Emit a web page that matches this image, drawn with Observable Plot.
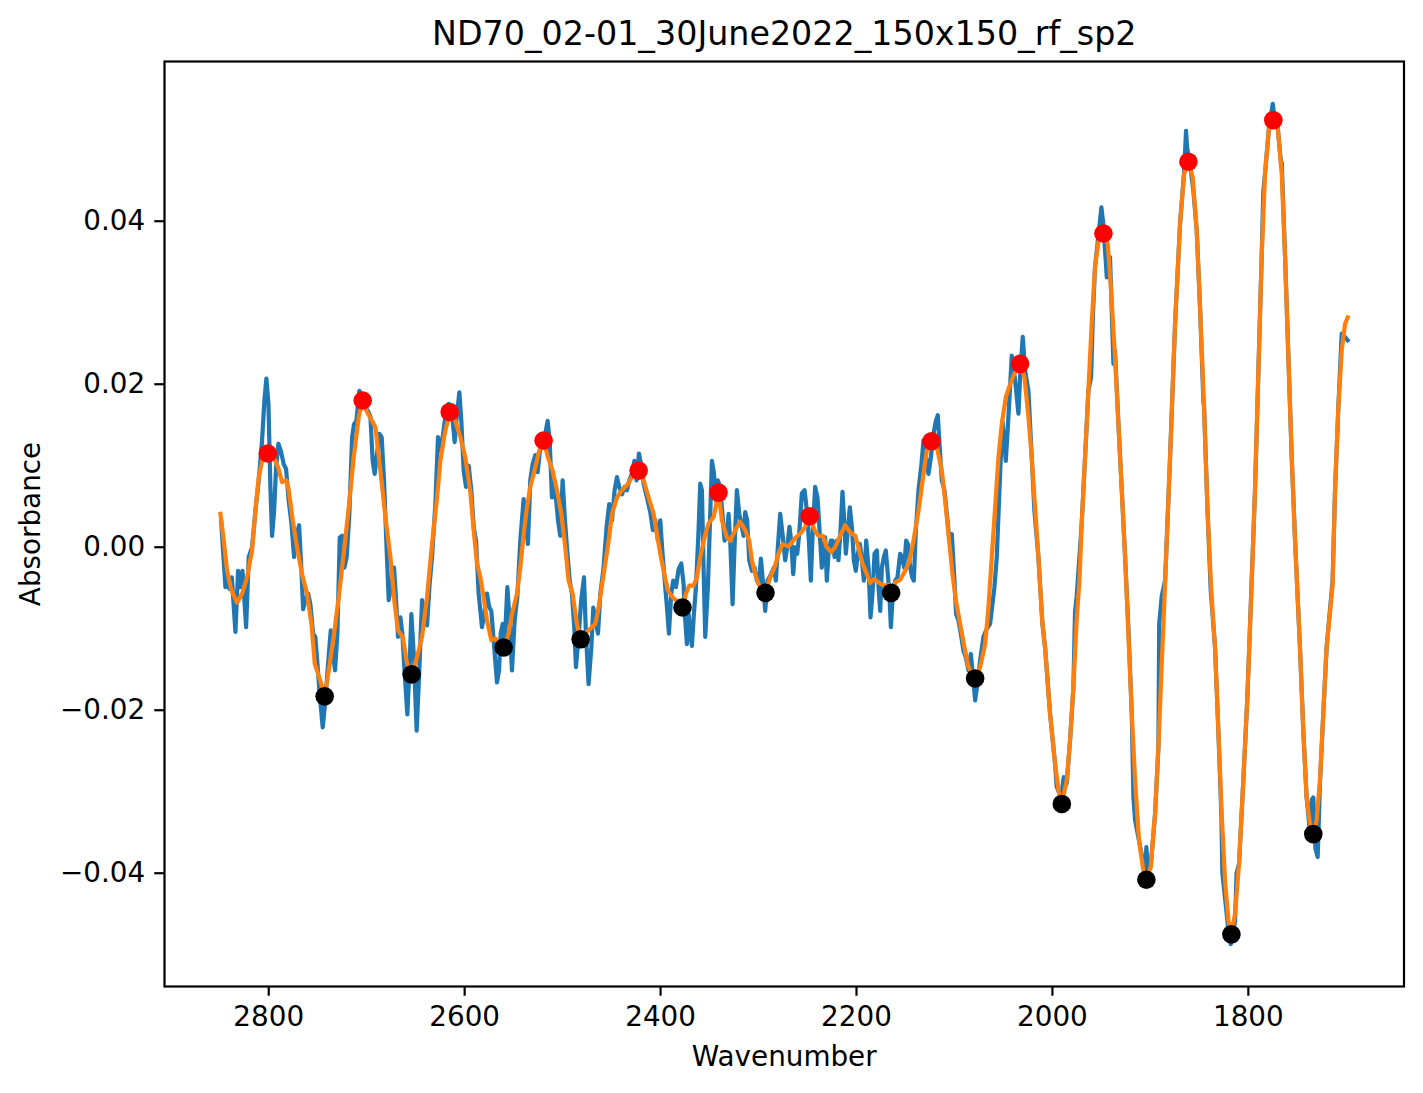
<!DOCTYPE html>
<html>
<head>
<meta charset="utf-8">
<script src="https://cdn.jsdelivr.net/npm/d3@7"></script>
<script src="https://cdn.jsdelivr.net/npm/@observablehq/plot@0.6"></script>
<style>
  html, body { margin: 0; padding: 0; background: #fff; overflow: hidden; }
</style>
</head>
<body>
<div id="chart"></div>
<script>
// Labels and ticks
const title = "ND70_02-01_30June2022_150x150_rf_sp2";
const xLabel = "Wavenumber";
const yLabel = "Absorbance";
const xTicks = [2800, 2600, 2400, 2200, 2000, 1800];
const yTicks = [-0.04, -0.02, 0, 0.02, 0.04];

// Raw spectrum: [wavenumber, absorbance]
const rawSpectrum = [
  [2848.5, 0.0031], [2844.2, -0.0049], [2842.2, -0.0037], [2840.1, -0.0051], [2837.7, -0.0037],
  [2834.0, -0.0104], [2831.3, -0.0029], [2829.2, -0.0049], [2826.8, -0.0029], [2823.1, -0.0098],
  [2820.4, -0.0012], [2817.0, 0.0000], [2813.6, 0.0045], [2810.2, 0.0082], [2806.8, 0.0131],
  [2804.4, 0.0180], [2802.4, 0.0207], [2800.3, 0.0176], [2798.3, 0.0074], [2796.6, 0.0014],
  [2794.5, 0.0045], [2792.5, 0.0098], [2790.1, 0.0127], [2787.4, 0.0117], [2784.7, 0.0102],
  [2782.3, 0.0096], [2779.6, 0.0057], [2776.8, 0.0029], [2774.1, -0.0012], [2771.4, 0.0016],
  [2769.0, 0.0027], [2766.6, -0.0029], [2764.9, -0.0076], [2762.6, -0.0065], [2759.8, -0.0057],
  [2757.5, -0.0070], [2754.7, -0.0106], [2752.4, -0.0110], [2750.3, -0.0143], [2748.3, -0.0176],
  [2744.9, -0.0221], [2742.2, -0.0188], [2739.4, -0.0143], [2736.7, -0.0102], [2734.3, -0.0131],
  [2732.3, -0.0151], [2729.9, -0.0106], [2727.5, 0.0012], [2725.1, 0.0014], [2722.8, -0.0025],
  [2720.4, -0.0012], [2717.7, 0.0041], [2714.9, 0.0135], [2712.9, 0.0151], [2710.5, 0.0155],
  [2707.5, 0.0192], [2704.7, 0.0186], [2702.0, 0.0172], [2699.0, 0.0168], [2696.2, 0.0160],
  [2693.9, 0.0106], [2691.8, 0.0090], [2689.4, 0.0115], [2687.0, 0.0139], [2684.7, 0.0135],
  [2682.3, 0.0082], [2679.6, -0.0004], [2677.5, -0.0065], [2674.8, -0.0045], [2672.1, -0.0025],
  [2670.0, -0.0065], [2668.0, -0.0110], [2665.6, -0.0086], [2663.6, -0.0106], [2661.2, -0.0155],
  [2658.5, -0.0205], [2656.4, -0.0151], [2654.4, -0.0082], [2652.0, -0.0131], [2649.0, -0.0225],
  [2646.6, -0.0160], [2643.5, -0.0065], [2640.8, -0.0078], [2638.4, -0.0096], [2636.0, -0.0049],
  [2633.3, -0.0012], [2629.9, 0.0053], [2627.2, 0.0135], [2624.8, 0.0119], [2622.4, 0.0135],
  [2619.7, 0.0160], [2616.3, 0.0176], [2612.9, 0.0164], [2610.2, 0.0129], [2607.8, 0.0164],
  [2605.4, 0.0190], [2603.4, 0.0155], [2601.0, 0.0094], [2598.6, 0.0074], [2595.9, 0.0100],
  [2593.2, 0.0070], [2590.8, 0.0025], [2588.4, 0.0008], [2585.7, -0.0057], [2582.3, -0.0098],
  [2579.6, -0.0078], [2577.2, -0.0057], [2574.8, -0.0074], [2572.8, -0.0078], [2570.4, -0.0114],
  [2567.0, -0.0166], [2564.9, -0.0151], [2563.2, -0.0106], [2561.2, -0.0094], [2559.2, -0.0119],
  [2556.4, -0.0049], [2554.1, -0.0090], [2551.7, -0.0151], [2549.0, -0.0090], [2546.2, -0.0061],
  [2543.2, 0.0008], [2539.8, 0.0059], [2537.4, 0.0029], [2535.4, 0.0004], [2533.0, 0.0082],
  [2530.6, 0.0102], [2527.9, 0.0113], [2525.5, 0.0092], [2523.1, 0.0119], [2520.4, 0.0123],
  [2517.7, 0.0139], [2515.3, 0.0155], [2513.2, 0.0131], [2510.9, 0.0061], [2509.2, 0.0082],
  [2507.1, 0.0065], [2504.7, 0.0033], [2502.4, 0.0014], [2500.0, 0.0082], [2497.6, 0.0033],
  [2495.6, 0.0000], [2492.8, -0.0041], [2490.5, -0.0057], [2488.1, -0.0098], [2486.4, -0.0147],
  [2483.7, -0.0110], [2481.0, -0.0065], [2478.2, -0.0037], [2476.2, -0.0106], [2473.5, -0.0168],
  [2470.7, -0.0123], [2468.7, -0.0074], [2466.3, -0.0090], [2463.9, -0.0106], [2461.5, -0.0057],
  [2458.2, -0.0025], [2455.1, 0.0025], [2452.4, 0.0053], [2449.6, 0.0033], [2446.9, 0.0070],
  [2444.5, 0.0086], [2442.2, 0.0074], [2439.4, 0.0065], [2436.7, 0.0074], [2434.3, 0.0070],
  [2431.9, 0.0082], [2429.2, 0.0090], [2426.8, 0.0106], [2424.5, 0.0082], [2422.1, 0.0115],
  [2419.7, 0.0100], [2417.3, 0.0078], [2413.9, 0.0061], [2410.5, 0.0043], [2407.8, 0.0021],
  [2405.4, 0.0033], [2402.7, 0.0008], [2400.3, 0.0033], [2398.0, -0.0008], [2395.2, -0.0049],
  [2393.2, -0.0078], [2391.5, -0.0106], [2389.1, -0.0057], [2387.1, -0.0041], [2384.3, -0.0049],
  [2381.6, -0.0027], [2378.9, -0.0020], [2376.5, -0.0045], [2374.8, -0.0090], [2373.1, -0.0119],
  [2371.4, -0.0082], [2369.7, -0.0102], [2368.0, -0.0121], [2366.0, -0.0082], [2363.9, -0.0049],
  [2361.5, 0.0013], [2359.5, 0.0078], [2357.8, 0.0070], [2356.1, -0.0025], [2354.4, -0.0110],
  [2351.7, -0.0049], [2349.3, 0.0041], [2347.6, 0.0106], [2345.6, 0.0092], [2343.5, 0.0057],
  [2341.5, 0.0082], [2339.4, 0.0074], [2337.1, 0.0045], [2334.7, 0.0008], [2332.3, 0.0016],
  [2330.6, 0.0041], [2328.9, 0.0008], [2326.5, -0.0070], [2324.5, 0.0000], [2322.1, 0.0070],
  [2319.7, 0.0041], [2317.7, 0.0029], [2315.3, 0.0014], [2313.6, 0.0043], [2311.6, 0.0033],
  [2309.5, -0.0016], [2306.8, -0.0029], [2304.1, -0.0025], [2301.7, -0.0041], [2299.6, -0.0045],
  [2297.6, -0.0014], [2295.6, -0.0041], [2293.2, -0.0078], [2290.8, -0.0041], [2288.8, -0.0037],
  [2286.4, -0.0031], [2284.3, -0.0025], [2282.3, -0.0041], [2280.3, 0.0000], [2277.9, 0.0041],
  [2275.5, 0.0016], [2272.8, -0.0016], [2270.7, 0.0000], [2268.4, 0.0025], [2266.7, 0.0008],
  [2264.6, -0.0033], [2262.6, 0.0000], [2260.5, -0.0008], [2258.5, 0.0016], [2255.8, 0.0066],
  [2253.0, 0.0070], [2250.7, 0.0045], [2248.6, 0.0008], [2246.6, -0.0041], [2244.5, 0.0025],
  [2242.2, 0.0074], [2239.8, 0.0061], [2237.7, 0.0021], [2235.4, -0.0025], [2233.7, -0.0004],
  [2232.0, 0.0012], [2230.3, -0.0041], [2228.6, -0.0008], [2226.2, 0.0008], [2224.5, 0.0008],
  [2222.4, -0.0012], [2220.1, 0.0008], [2218.4, -0.0016], [2216.3, 0.0021], [2214.3, 0.0068],
  [2212.6, 0.0033], [2210.9, -0.0008], [2209.2, 0.0016], [2206.8, 0.0049], [2204.7, 0.0025],
  [2202.7, -0.0016], [2200.7, -0.0029], [2198.6, -0.0008], [2196.6, 0.0004], [2194.5, -0.0016],
  [2192.5, -0.0041], [2190.1, 0.0008], [2187.7, -0.0025], [2185.7, -0.0086], [2183.7, -0.0057],
  [2181.6, -0.0008], [2179.2, -0.0004], [2177.5, -0.0049], [2175.8, -0.0078], [2174.1, -0.0025],
  [2172.1, -0.0012], [2170.1, -0.0004], [2168.0, -0.0033], [2166.3, -0.0061], [2164.9, -0.0098],
  [2162.9, -0.0057], [2160.5, -0.0041], [2158.2, -0.0037], [2155.4, -0.0008], [2153.4, -0.0012],
  [2151.3, -0.0025], [2149.3, 0.0008], [2147.6, 0.0004], [2145.2, -0.0025], [2143.2, -0.0037],
  [2141.5, -0.0041], [2139.4, 0.0021], [2136.7, 0.0070], [2134.0, 0.0098], [2131.6, 0.0131],
  [2128.9, 0.0110], [2126.5, 0.0090], [2124.1, 0.0110], [2121.4, 0.0139], [2119.0, 0.0155],
  [2117.0, 0.0162], [2115.3, 0.0127], [2112.9, 0.0082], [2110.2, 0.0070], [2107.8, 0.0041],
  [2105.4, 0.0012], [2102.7, 0.0016], [2100.0, -0.0041], [2098.3, -0.0082], [2095.9, -0.0090],
  [2093.5, -0.0106], [2090.8, -0.0127], [2088.4, -0.0135], [2085.7, -0.0151], [2083.3, -0.0131],
  [2080.6, -0.0164], [2078.9, -0.0188], [2076.2, -0.0164], [2073.8, -0.0139], [2070.4, -0.0110],
  [2067.0, -0.0100], [2063.6, -0.0094], [2059.2, -0.0049], [2056.8, -0.0012], [2053.4, 0.0090],
  [2051.0, 0.0155], [2047.6, 0.0106], [2044.9, 0.0160], [2041.5, 0.0235], [2038.1, 0.0205],
  [2034.7, 0.0164], [2033.0, 0.0209], [2030.3, 0.0258], [2027.9, 0.0217], [2024.5, 0.0192],
  [2021.1, 0.0110], [2018.4, 0.0045], [2014.3, -0.0012], [2010.2, -0.0094], [2007.5, -0.0123],
  [2002.4, -0.0204], [1997.3, -0.0266], [1995.6, -0.0294], [1991.2, -0.0307], [1988.4, -0.0282],
  [1985.4, -0.0290], [1982.0, -0.0237], [1978.6, -0.0172], [1976.9, -0.0080], [1975.2, -0.0060],
  [1970.1, 0.0029], [1966.7, 0.0110], [1963.3, 0.0192], [1960.5, 0.0209], [1958.8, 0.0280],
  [1956.5, 0.0344], [1952.4, 0.0390], [1950.0, 0.0417], [1947.9, 0.0395], [1945.5, 0.0350],
  [1944.5, 0.0331], [1941.2, 0.0356], [1937.7, 0.0225], [1936.1, 0.0241], [1932.6, 0.0151],
  [1929.2, 0.0070], [1925.8, -0.0012], [1922.4, -0.0100], [1919.0, -0.0204], [1917.3, -0.0307],
  [1915.6, -0.0335], [1911.6, -0.0360], [1907.1, -0.0388], [1905.5, -0.0400], [1904.1, -0.0368],
  [1902.5, -0.0395], [1899.7, -0.0392], [1895.2, -0.0327], [1891.8, -0.0245], [1891.0, -0.0094],
  [1888.4, -0.0060], [1885.0, -0.0041], [1879.9, 0.0110], [1874.8, 0.0274], [1869.7, 0.0397],
  [1865.6, 0.0460], [1863.6, 0.0511], [1862.5, 0.0490], [1859.5, 0.0470], [1856.1, 0.0437],
  [1852.7, 0.0389], [1849.3, 0.0294], [1845.9, 0.0180], [1845.2, 0.0172], [1841.8, 0.0049],
  [1838.4, -0.0053], [1834.0, -0.0123], [1830.6, -0.0225], [1827.5, -0.0330], [1826.5, -0.0400],
  [1823.8, -0.0430], [1820.4, -0.0470], [1818.0, -0.0487], [1815.5, -0.0470], [1813.6, -0.0460],
  [1812.0, -0.0400], [1809.5, -0.0388], [1805.1, -0.0286], [1801.0, -0.0184], [1796.6, -0.0041],
  [1793.2, 0.0070], [1789.8, 0.0213], [1786.4, 0.0356], [1784.7, 0.0437], [1783.0, 0.0458],
  [1778.9, 0.0515], [1775.1, 0.0544], [1772.5, 0.0520], [1770.0, 0.0515], [1766.5, 0.0470],
  [1765.9, 0.0472], [1762.5, 0.0356], [1759.1, 0.0233], [1755.7, 0.0110], [1752.3, 0.0008],
  [1747.3, -0.0123], [1743.9, -0.0225], [1740.5, -0.0307], [1737.1, -0.0350], [1735.3, -0.0310],
  [1733.7, -0.0307], [1731.5, -0.0370], [1729.2, -0.0380], [1726.9, -0.0290], [1723.5, -0.0204],
  [1720.1, -0.0123], [1714.0, -0.0041], [1711.5, 0.0070], [1708.1, 0.0172], [1704.7, 0.0262],
  [1701.3, 0.0258], [1698.6, 0.0254]
];

// Smoothed spectrum: [wavenumber, absorbance]
const smoothedSpectrum = [
  [2849.3, 0.0041], [2845.9, 0.0008], [2842.5, -0.0029], [2838.1, -0.0053], [2832.3, -0.0068],
  [2827.2, -0.0057], [2822.1, -0.0037], [2817.0, -0.0004], [2813.6, 0.0045], [2810.2, 0.0086],
  [2806.8, 0.0106], [2801.0, 0.0115], [2794.9, 0.0110], [2790.4, 0.0098], [2786.4, 0.0080],
  [2781.9, 0.0082], [2779.6, 0.0070], [2775.5, 0.0033], [2771.1, 0.0000], [2766.0, -0.0033],
  [2760.9, -0.0057], [2756.4, -0.0094], [2753.0, -0.0143], [2747.3, -0.0164], [2742.9, -0.0183],
  [2738.7, -0.0151], [2733.7, -0.0110], [2728.5, -0.0061], [2723.5, -0.0008], [2718.3, 0.0049],
  [2713.3, 0.0110], [2708.1, 0.0160], [2704.1, 0.0180], [2699.6, 0.0166], [2694.5, 0.0155],
  [2691.1, 0.0147], [2686.0, 0.0094], [2680.9, 0.0037], [2675.8, -0.0012], [2671.4, -0.0070],
  [2668.0, -0.0102], [2663.2, -0.0110], [2658.8, -0.0143], [2654.1, -0.0156], [2648.6, -0.0135],
  [2643.5, -0.0110], [2638.4, -0.0061], [2633.3, 0.0004], [2628.2, 0.0061], [2624.8, 0.0106],
  [2620.4, 0.0139], [2615.3, 0.0166], [2609.5, 0.0155], [2604.4, 0.0135], [2599.3, 0.0110],
  [2594.2, 0.0068], [2590.8, 0.0021], [2587.4, -0.0020], [2584.0, -0.0037], [2580.6, -0.0061],
  [2577.2, -0.0090], [2572.8, -0.0114], [2568.7, -0.0112], [2560.2, -0.0123], [2555.1, -0.0106],
  [2551.7, -0.0082], [2546.6, -0.0057], [2543.2, -0.0025], [2539.8, 0.0016], [2536.4, 0.0049],
  [2533.0, 0.0074], [2527.9, 0.0098], [2523.8, 0.0119], [2519.4, 0.0131], [2514.9, 0.0110],
  [2510.2, 0.0094], [2505.8, 0.0070], [2501.3, 0.0041], [2497.3, 0.0000], [2493.9, -0.0041],
  [2489.8, -0.0057], [2485.4, -0.0094], [2481.6, -0.0113], [2476.9, -0.0106], [2471.8, -0.0100],
  [2466.6, -0.0094], [2463.2, -0.0074], [2458.1, -0.0033], [2453.0, 0.0008], [2449.6, 0.0041],
  [2444.5, 0.0061], [2439.4, 0.0070], [2434.3, 0.0076], [2429.2, 0.0086], [2422.4, 0.0094],
  [2417.3, 0.0082], [2412.2, 0.0061], [2407.1, 0.0041], [2403.7, 0.0016], [2400.3, -0.0008],
  [2396.2, -0.0033], [2392.5, -0.0053], [2386.7, -0.0063], [2381.6, -0.0067], [2377.6, -0.0074],
  [2374.1, -0.0057], [2370.7, -0.0047], [2366.3, -0.0047], [2362.9, -0.0037], [2359.5, -0.0012],
  [2355.1, 0.0012], [2351.0, 0.0029], [2345.9, 0.0037], [2340.8, 0.0067], [2337.4, 0.0033],
  [2332.3, 0.0012], [2328.9, 0.0008], [2323.8, 0.0021], [2318.7, 0.0031], [2313.6, 0.0021],
  [2309.5, 0.0008], [2306.8, -0.0016], [2303.4, -0.0033], [2300.0, -0.0045], [2296.6, -0.0053],
  [2292.9, -0.0056], [2288.1, -0.0037], [2283.7, -0.0025], [2279.6, -0.0008], [2275.5, 0.0004],
  [2269.4, 0.0001], [2266.0, 0.0006], [2261.9, 0.0012], [2256.4, 0.0018], [2252.4, 0.0025],
  [2247.8, 0.0038], [2242.8, 0.0021], [2238.8, 0.0014], [2234.3, 0.0014], [2230.3, 0.0000],
  [2225.8, -0.0006], [2221.8, 0.0000], [2216.7, 0.0014], [2211.6, 0.0027], [2206.4, 0.0018],
  [2201.3, 0.0014], [2198.0, 0.0000], [2193.9, -0.0020], [2189.4, -0.0033], [2186.0, -0.0044],
  [2181.6, -0.0039], [2177.5, -0.0043], [2172.4, -0.0047], [2167.3, -0.0046], [2164.6, -0.0056],
  [2160.5, -0.0043], [2155.4, -0.0040], [2150.3, -0.0029], [2146.2, -0.0018], [2141.8, 0.0008],
  [2136.7, 0.0045], [2131.6, 0.0090], [2128.2, 0.0119], [2123.5, 0.0130], [2118.0, 0.0123],
  [2112.9, 0.0094], [2108.8, 0.0049], [2105.4, 0.0008], [2102.0, -0.0033], [2098.6, -0.0065],
  [2094.2, -0.0094], [2089.8, -0.0123], [2085.7, -0.0147], [2078.9, -0.0161], [2073.8, -0.0147],
  [2068.7, -0.0119], [2065.3, -0.0074], [2061.9, -0.0012], [2058.5, 0.0049], [2055.1, 0.0110],
  [2051.7, 0.0151], [2047.6, 0.0184], [2043.2, 0.0200], [2038.1, 0.0215], [2033.0, 0.0225],
  [2028.6, 0.0209], [2024.5, 0.0160], [2021.1, 0.0110], [2017.7, 0.0049], [2014.3, -0.0012],
  [2010.2, -0.0094], [2007.5, -0.0123], [2002.4, -0.0204], [1997.3, -0.0266], [1993.2, -0.0303],
  [1990.4, -0.0315], [1985.4, -0.0286], [1982.0, -0.0237], [1978.6, -0.0172], [1975.2, -0.0088],
  [1972.4, -0.0041], [1970.1, 0.0029], [1966.7, 0.0110], [1963.3, 0.0192], [1959.9, 0.0274],
  [1956.5, 0.0344], [1952.4, 0.0380], [1947.9, 0.0385], [1943.5, 0.0372], [1940.1, 0.0315],
  [1936.1, 0.0233], [1932.6, 0.0151], [1929.2, 0.0070], [1925.8, -0.0012], [1922.4, -0.0108],
  [1919.0, -0.0204], [1915.6, -0.0286], [1911.6, -0.0360], [1907.1, -0.0397], [1904.1, -0.0408],
  [1899.7, -0.0393], [1895.2, -0.0327], [1891.8, -0.0245], [1888.4, -0.0143], [1885.0, -0.0045],
  [1879.9, 0.0110], [1874.8, 0.0274], [1869.7, 0.0397], [1865.6, 0.0458], [1861.2, 0.0473],
  [1856.8, 0.0454], [1852.7, 0.0389], [1849.3, 0.0294], [1845.2, 0.0172], [1841.8, 0.0049],
  [1838.0, -0.0050], [1834.0, -0.0123], [1830.6, -0.0225], [1827.2, -0.0327], [1823.8, -0.0409],
  [1820.4, -0.0458], [1817.3, -0.0475], [1813.6, -0.0450], [1809.5, -0.0388], [1805.1, -0.0286],
  [1801.0, -0.0184], [1796.6, -0.0045], [1793.2, 0.0070], [1789.8, 0.0213], [1786.4, 0.0356],
  [1783.0, 0.0458], [1778.9, 0.0515], [1774.5, 0.0524], [1770.0, 0.0515], [1765.9, 0.0458],
  [1762.5, 0.0356], [1759.1, 0.0233], [1755.7, 0.0110], [1752.3, 0.0008], [1747.3, -0.0123],
  [1743.9, -0.0225], [1740.5, -0.0307], [1737.1, -0.0339], [1733.7, -0.0352], [1730.3, -0.0335],
  [1726.9, -0.0286], [1723.5, -0.0204], [1720.1, -0.0123], [1714.0, -0.0047], [1711.5, 0.0070],
  [1708.1, 0.0172], [1704.7, 0.0241], [1701.3, 0.0274], [1698.6, 0.0282]
];

// Local maxima and minima of the smoothed spectrum: [wavenumber, absorbance]
const peaks = [
  [2801.0, 0.0115], [2704.1, 0.0180], [2615.3, 0.0166], [2519.4, 0.0131],
  [2422.4, 0.0094], [2340.8, 0.0067], [2247.8, 0.0038], [2123.5, 0.0130],
  [2033.0, 0.0225], [1947.9, 0.0385], [1861.2, 0.0473], [1774.5, 0.0524]
];
const troughs = [
  [2742.9, -0.0183], [2654.1, -0.0156], [2560.2, -0.0123], [2481.6, -0.0113],
  [2377.6, -0.0074], [2292.9, -0.0056], [2164.6, -0.0056], [2078.9, -0.0161],
  [1990.4, -0.0315], [1904.1, -0.0408], [1817.3, -0.0475], [1733.7, -0.0352]
];

const toRows = (pairs) => pairs.map(([wavenumber, absorbance]) => ({wavenumber, absorbance}));

const lineStyle = {x: "wavenumber", y: "absorbance", strokeWidth: 4.2, strokeLinejoin: "round", strokeLinecap: "square"};
const dotStyle = {x: "wavenumber", y: "absorbance", r: 9.3, stroke: "none"};

const chart = Plot.plot({
  width: 1423,
  height: 1093,
  marginLeft: 164,
  marginRight: 19.5,
  marginTop: 61,
  marginBottom: 107,
  style: {fontFamily: "'DejaVu Sans', sans-serif", fontSize: "27.8px", background: "#fff", color: "#000", overflow: "visible"},
  x: {domain: [2906.4, 1641.1], label: null},
  y: {domain: [-0.0539, 0.0596], label: null},
  marks: [
    Plot.line(toRows(rawSpectrum), {...lineStyle, stroke: "#1f77b4"}),
    Plot.line(toRows(smoothedSpectrum), {...lineStyle, stroke: "#ff7f0e"}),
    Plot.dot(toRows(peaks), {...dotStyle, fill: "#ff0000"}),
    Plot.dot(toRows(troughs), {...dotStyle, fill: "#000000"}),
    Plot.frame({stroke: "#000", strokeWidth: 2.2}),
    Plot.axisX({ticks: xTicks, tickSize: 9.7, tickPadding: 9.7, strokeWidth: 2.2, tickFormat: (d) => String(d), label: null}),
    Plot.axisY({ticks: yTicks, tickSize: 9.7, tickPadding: 9.7, strokeWidth: 2.2, tickFormat: d3.format(".2f"), label: null}),
    Plot.text([title], {text: (d) => d, frameAnchor: "top", dy: -27.4, fontSize: 33.3, textAnchor: "middle", lineAnchor: "middle"}),
    Plot.text([xLabel], {text: (d) => d, frameAnchor: "bottom", dy: 71, textAnchor: "middle", lineAnchor: "middle"}),
    Plot.text([yLabel], {text: (d) => d, frameAnchor: "left", dx: -133, rotate: -90, textAnchor: "middle", lineAnchor: "middle"})
  ]
});

document.getElementById("chart").appendChild(chart);
</script>
</body>
</html>
